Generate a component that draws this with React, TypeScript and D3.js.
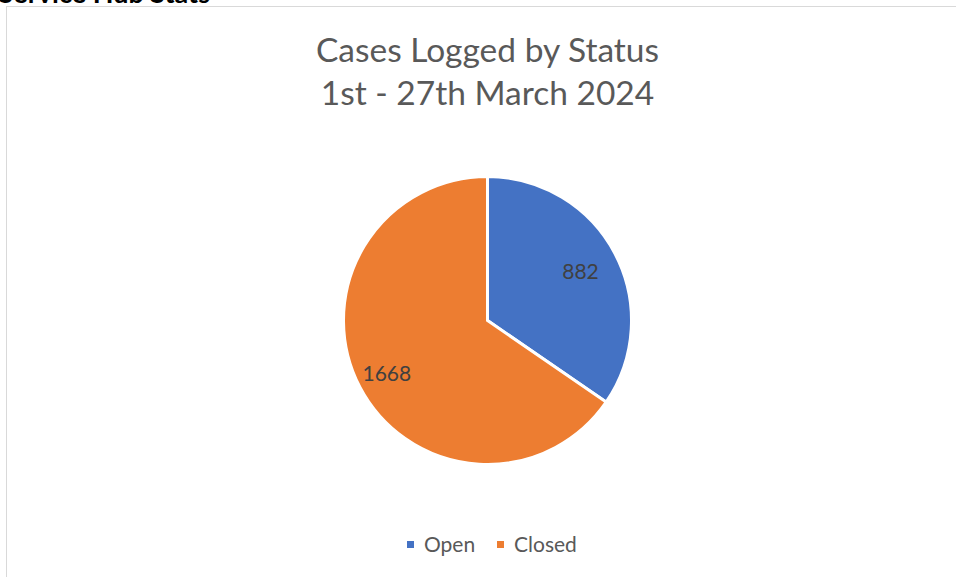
import React from 'react';
import * as d3 from 'd3';

const categories = ['Open', 'Closed'];
const values = [882, 1668];
const colors = ['#4472C4', '#ED7D31'];
const titleLines = ['Cases Logged by Status', '1st - 27th March 2024'];

const width = 956;
const height = 577;
const cx = 487.5;
const cy = 320.5;
const radius = 144;
const font = "Lato, 'Open Sans', sans-serif";
// where each data label sits, as a fraction of the radius
const labelRadius = [0.73, 0.79];

const App = () => {
    const pie = d3.pie<number>().sort(null).value(d => d);
    const arcs = pie(values);
    const arc = d3.arc<d3.PieArcDatum<number>>().innerRadius(0).outerRadius(radius);

    const legendX = d3.scalePoint<string>().domain(categories).range([407, 497]);

    return (
        <svg width={width} height={height} style={{ position: 'absolute', left: 0, top: 0, background: '#fff' }}>
            {/* heading above the chart, cut off at the top */}
            <text x={210} y={3} textAnchor="end" fontFamily={font} fontWeight="bold" fontSize={27} fill="#000">
                Service Hub Stats
            </text>
            <rect x={6.5} y={6.5} width={960} height={600} fill="#fff" stroke="#d9d9d9" strokeWidth={1} />

            {titleLines.map((t, i) => (
                <text key={t} x={cx} y={62 + i * 43} textAnchor="middle" fontFamily={font} fontSize={33.5} fill="#595959">
                    {t}
                </text>
            ))}

            <g transform={`translate(${cx},${cy})`}>
                {arcs.map((a, i) => (
                    <path key={categories[i]} d={arc(a) || ''} fill={colors[i]} stroke="#fff" strokeWidth={3} strokeLinejoin="miter" />
                ))}
                {arcs.map((a, i) => {
                    const r = radius * labelRadius[i];
                    const [lx, ly] = d3.arc<d3.PieArcDatum<number>>().innerRadius(r).outerRadius(r).centroid(a);
                    return (
                        <text key={'l' + i} x={lx} y={ly} dy="0.35em" textAnchor="middle" fontFamily={font} fontSize={21} fill="#404040">
                            {values[i]}
                        </text>
                    );
                })}
            </g>

            {categories.map((c, i) => (
                <g key={c} transform={`translate(${legendX(c)},541)`}>
                    <rect width={7} height={7} fill={colors[i]} />
                    <text x={17} y={10.5} fontFamily={font} fontSize={21} fill="#595959">{c}</text>
                </g>
            ))}
        </svg>
    );
};

export default App;
